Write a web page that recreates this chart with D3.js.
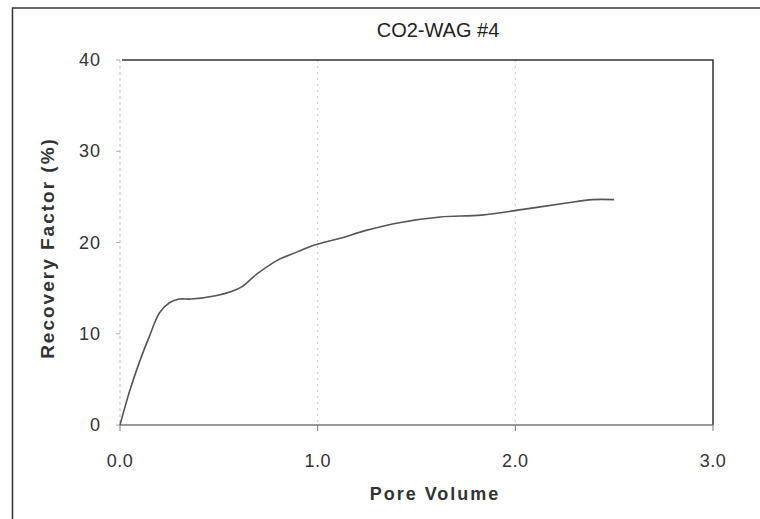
<!DOCTYPE html>
<html>
<head>
<meta charset="utf-8">
<script src="https://cdn.jsdelivr.net/npm/d3@7"></script>
<style>
    body { margin: 0; background: #fff; }
    text { font-family: Arial, "Liberation Sans", sans-serif; }
</style>
</head>
<body>
<svg id="chart" width="760" height="519"></svg>
<script>
const poreVolume = [0, 0.05, 0.10, 0.15, 0.20, 0.25, 0.30, 0.36, 0.49, 0.56, 0.62, 0.69, 0.80, 0.90, 0.98, 1.12, 1.24, 1.42, 1.62, 1.83, 2.03, 2.25, 2.39, 2.50];
const recovery = [0, 3.8, 7.0, 9.8, 12.3, 13.4, 13.8, 13.8, 14.2, 14.6, 15.2, 16.5, 18.1, 19.0, 19.7, 20.5, 21.3, 22.2, 22.8, 23.0, 23.6, 24.3, 24.7, 24.7];
const xTicks = [0, 1, 2, 3];
const yTicks = [0, 10, 20, 30, 40];
const gridX = [1, 2];

const svg = d3.select("#chart");

const margin = { top: 60, right: 47, bottom: 94, left: 120 };
const width = 760 - margin.left - margin.right;
const height = 519 - margin.top - margin.bottom;

// outer frame (only left and top edges visible)
svg.append("path")
    .attr("d", "M12.5,519 L12.5,8 L760,8")
    .attr("fill", "none")
    .attr("stroke", "#333")
    .attr("stroke-width", 1.5);

const chartArea = svg.append("g")
    .attr("transform", `translate(${margin.left},${margin.top})`);

const xScale = d3.scaleLinear().domain([0, 3]).range([0, width]);
const yScale = d3.scaleLinear().domain([0, 40]).range([height, 0]);

// vertical dotted grid
chartArea.selectAll(".grid-x")
    .data(gridX)
    .join("line")
    .attr("class", "grid-x")
    .attr("x1", d => xScale(d))
    .attr("x2", d => xScale(d))
    .attr("y1", 0)
    .attr("y2", height)
    .attr("stroke", "#c4c4c4")
    .attr("stroke-width", 1)
    .attr("stroke-dasharray", "2,4");

// y axis: light dotted line with small ticks
chartArea.append("line")
    .attr("x1", 0).attr("x2", 0)
    .attr("y1", 0).attr("y2", height)
    .attr("stroke", "#bbb")
    .attr("stroke-dasharray", "3,3");

chartArea.selectAll(".ytick")
    .data(yTicks)
    .join("line")
    .attr("class", "ytick")
    .attr("x1", -4).attr("x2", 0)
    .attr("y1", d => yScale(d))
    .attr("y2", d => yScale(d))
    .attr("stroke", "#aaa");

chartArea.selectAll(".ylabel")
    .data(yTicks)
    .join("text")
    .attr("class", "ylabel")
    .attr("x", -19)
    .attr("y", d => yScale(d))
    .attr("text-anchor", "end")
    .attr("dominant-baseline", "central")
    .attr("font-size", 18)
    .attr("letter-spacing", 1)
    .attr("fill", "#333")
    .text(d => d);

// top and right frame of plot area
chartArea.append("path")
    .attr("d", `M2,0 L${width},0 L${width},${height}`)
    .attr("fill", "none")
    .attr("stroke", "#333")
    .attr("stroke-width", 1.5);

// x axis
chartArea.append("line")
    .attr("x1", 0).attr("x2", width)
    .attr("y1", height).attr("y2", height)
    .attr("stroke", "#777")
    .attr("stroke-width", 1.5);

chartArea.selectAll(".xtick")
    .data(xTicks)
    .join("line")
    .attr("class", "xtick")
    .attr("x1", d => xScale(d))
    .attr("x2", d => xScale(d))
    .attr("y1", height)
    .attr("y2", height + 6)
    .attr("stroke", "#777");

chartArea.selectAll(".xlabel")
    .data(xTicks)
    .join("text")
    .attr("class", "xlabel")
    .attr("x", d => xScale(d))
    .attr("y", height + 42)
    .attr("text-anchor", "middle")
    .attr("font-size", 18)
    .attr("letter-spacing", 0.5)
    .attr("fill", "#333")
    .text(d => d.toFixed(1));

// curve
const line = d3.line()
    .x((d, i) => xScale(poreVolume[i]))
    .y(d => yScale(d))
    .curve(d3.curveCatmullRom.alpha(0.5));

chartArea.append("path")
    .datum(recovery)
    .attr("fill", "none")
    .attr("stroke", "#555")
    .attr("stroke-width", 1.6)
    .attr("d", line);

// titles
svg.append("text")
    .attr("x", 438)
    .attr("y", 37)
    .attr("text-anchor", "middle")
    .attr("font-size", 20)
    .attr("fill", "#222")
    .text("CO2-WAG #4");

svg.append("text")
    .attr("x", 435)
    .attr("y", 500)
    .attr("text-anchor", "middle")
    .attr("font-size", 18)
    .attr("font-weight", "bold")
    .attr("letter-spacing", 2)
    .attr("fill", "#333")
    .text("Pore Volume");

svg.append("text")
    .attr("transform", "translate(54,248) rotate(-90)")
    .attr("text-anchor", "middle")
    .attr("font-size", 19)
    .attr("font-weight", "bold")
    .attr("letter-spacing", 2)
    .attr("fill", "#333")
    .text("Recovery Factor (%)");
</script>
</body>
</html>
